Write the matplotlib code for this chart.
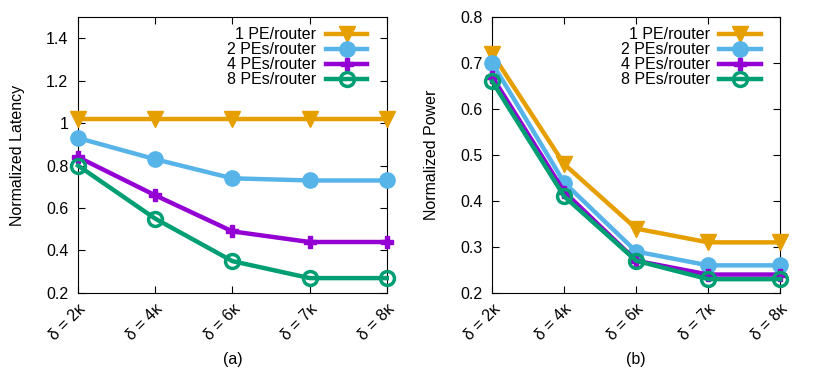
import matplotlib
matplotlib.use("Agg")
import matplotlib.pyplot as plt

plt.rcParams['font.family'] = ['Liberation Sans', 'DejaVu Sans']

# data
x_labels = ["δ = 2κ", "δ = 4κ", "δ = 6κ", "δ = 7κ", "δ = 8κ"]
series_names = ["1 PE/router", "2 PEs/router", "4 PEs/router", "8 PEs/router"]

latency_1pe = [1.02, 1.02, 1.02, 1.02, 1.02]
latency_2pe = [0.93, 0.83, 0.74, 0.73, 0.73]
latency_4pe = [0.84, 0.66, 0.49, 0.44, 0.44]
latency_8pe = [0.80, 0.55, 0.35, 0.27, 0.27]

power_1pe = [0.72, 0.48, 0.34, 0.31, 0.31]
power_2pe = [0.70, 0.44, 0.29, 0.26, 0.26]
power_4pe = [0.67, 0.42, 0.27, 0.24, 0.24]
power_8pe = [0.66, 0.41, 0.27, 0.23, 0.23]

colors = ["#E69F00", "#56B4E9", "#9400D3", "#009E73"]
styles = [
    dict(marker="v", markersize=11),
    dict(marker="o", markersize=11),
    dict(marker="P", markersize=8),
    dict(marker="o", markersize=10, markerfacecolor="none", markeredgewidth=2.5),
]

FS = 11.5

fig = plt.figure(figsize=(8.3, 3.78), dpi=100)
ax1 = fig.add_axes([0.094, 0.225, 0.372, 0.730])
ax2 = fig.add_axes([0.593, 0.225, 0.347, 0.730])


def draw(ax, data, ylim, yticks, ylabel, caption):
    xs = list(range(len(x_labels)))
    for vals, name, c, st in zip(data, series_names, colors, styles):
        ax.plot(xs, vals, color=c, lw=3.2, label=name, clip_on=False, zorder=3, **st)
    ax.set_xlim(0, len(x_labels) - 1)
    ax.set_ylim(*ylim)
    ax.set_yticks(yticks)
    ax.set_yticklabels([f"{t:g}" for t in yticks])
    ax.set_xticks(xs)
    ax.set_xticklabels(x_labels, rotation=45, ha="right", va="top", rotation_mode="anchor")
    ax.tick_params(direction="in", top=True, right=True, length=5, labelsize=FS)
    ax.tick_params(axis="y", pad=7)
    ax.tick_params(axis="x", pad=6)
    ax.set_ylabel(ylabel, fontsize=FS, labelpad=15)
    for s in ax.spines.values():
        s.set_linewidth(0.8)
    # legend sits a bit in from the right edge, like gnuplot's key
    w_px = ax.get_position().width * fig.get_figwidth() * fig.dpi
    ax.legend(loc="upper right", bbox_to_anchor=(1 - 9 / w_px, 1.0), frameon=False,
              markerfirst=False, fontsize=FS, handlelength=2.6, labelspacing=0.0,
              borderaxespad=0.25, handletextpad=0.6)
    ax.text(0.5, -0.215, caption, transform=ax.transAxes, ha="center", va="top", fontsize=FS)


draw(ax1, [latency_1pe, latency_2pe, latency_4pe, latency_8pe], (0.2, 1.5),
     [0.2, 0.4, 0.6, 0.8, 1.0, 1.2, 1.4], "Normalized Latency", "(a)")
draw(ax2, [power_1pe, power_2pe, power_4pe, power_8pe], (0.2, 0.8),
     [0.2, 0.3, 0.4, 0.5, 0.6, 0.7, 0.8], "Normalized Power", "(b)")

fig.savefig("out.png", dpi=100)
